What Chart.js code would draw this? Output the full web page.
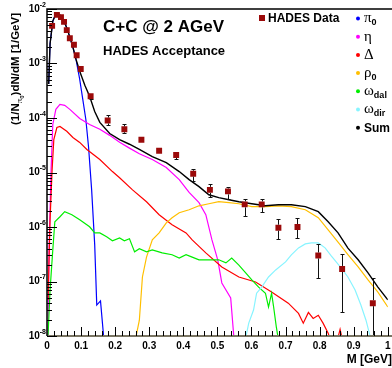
<!DOCTYPE html>
<html lang="en">
<head>
<meta charset="UTF-8">
<title>C+C @ 2 AGeV - dielectron cocktail</title>
<style>
    body { margin: 0; background: #fff; }
    .chart-box { position: relative; width: 392px; height: 368px; }
</style>
</head>
<body>
<div class="chart-box"><canvas id="massChart"></canvas></div>

<script src="https://cdn.jsdelivr.net/npm/chart.js"></script>
<script>
// HADES data points (M in GeV, 1/N dN/dM in 1/GeV)
const dataMass = [0.015, 0.029, 0.041, 0.050, 0.058, 0.067, 0.079, 0.087, 0.099, 0.128, 0.178, 0.227, 0.277,
                  0.329, 0.379, 0.429, 0.478, 0.531, 0.580, 0.630, 0.679, 0.735, 0.796, 0.866, 0.956];
const dataVal  = [4.9e-3, 7.8e-3, 7.1e-3, 5.8e-3, 4.1e-3, 2.9e-3, 2.2e-3, 1.42e-3, 7.9e-4, 2.5e-4, 9.0e-5, 6.2e-5, 4.0e-5,
                  2.5e-5, 2.1e-5, 9.5e-6, 4.8e-6, 4.5e-6, 2.6e-6, 2.6e-6, 9.7e-7, 1.0e-6, 3.0e-7, 1.7e-7, 4.0e-8];
const errHigh  = [null, null, null, null, null, null, null, null, null, 2.75e-4, 1.12e-4, 7.6e-5, null,
                  null, 2.2e-5, 1.18e-5, 6.25e-6, 5.5e-6, 3.3e-6, 3.3e-6, 1.42e-6, 1.48e-6, 4.9e-7, 3.2e-7, 1.16e-7];
const errLow   = [null, null, null, null, null, null, null, null, null, 2.2e-4, 7.3e-5, 5.2e-5, null,
                  null, 1.8e-5, 7.1e-6, 3.6e-6, 3.3e-6, 1.61e-6, 1.91e-6, 6.1e-7, 6.3e-7, 1.16e-7, 2.7e-8, 1e-9];

// cocktail components
const piMass = [0.005, 0.009, 0.017, 0.026, 0.032, 0.041, 0.050, 0.058, 0.067, 0.076, 0.085, 0.096, 0.105, 0.114,
                0.122, 0.131, 0.140, 0.146, 0.157, 0.166, 0.170];
const piVal  = [4.2e-4, 2.3e-3, 6.0e-3, 8.1e-3, 8.4e-3, 7.4e-3, 6.0e-3, 4.5e-3, 3.05e-3, 2.0e-3, 1.2e-3, 5.1e-4, 2.2e-4, 9.4e-5,
                2.9e-5, 4.8e-6, 4.7e-7, 3.7e-8, 4.4e-8, 1.0e-8, 5e-9];

const etaMass = [0.003, 0.006, 0.012, 0.017, 0.026, 0.038, 0.052, 0.067, 0.096, 0.125, 0.155, 0.184, 0.213, 0.242,
                 0.271, 0.309, 0.350, 0.388, 0.417, 0.446, 0.466, 0.484, 0.501, 0.513, 0.539, 0.548, 0.552];
const etaVal  = [1e-8, 3.8e-7, 1.13e-5, 7.6e-5, 1.44e-4, 1.78e-4, 1.71e-4, 1.44e-4, 9.8e-5, 7.6e-5, 6.2e-5, 4.8e-5, 3.6e-5, 2.8e-5,
                 2.2e-5, 1.73e-5, 1.23e-5, 7.4e-6, 4.3e-6, 2.8e-6, 1.68e-6, 5.8e-7, 2.5e-7, 9.4e-8, 5.0e-8, 1e-8, 5e-9];

const deltaMass = [0.003, 0.009, 0.015, 0.020, 0.029, 0.038, 0.058, 0.076, 0.096, 0.117, 0.155, 0.192, 0.213, 0.251,
                   0.292, 0.329, 0.367, 0.408, 0.426, 0.466, 0.513, 0.563, 0.612, 0.659, 0.708, 0.738, 0.752, 0.767,
                   0.781, 0.796, 0.810, 0.825, 0.843, 0.860, 0.875];
const deltaVal  = [4.6e-8, 1.36e-6, 1.13e-5, 4.0e-5, 6.7e-5, 7.0e-5, 5.7e-5, 4.4e-5, 3.56e-5, 2.64e-5, 1.73e-5, 1.04e-5, 8.0e-6, 4.8e-6,
                   2.9e-6, 1.68e-6, 1.1e-6, 7.8e-7, 5.8e-7, 3.35e-7, 1.85e-7, 1.21e-7, 9.8e-8, 6.4e-8, 4.0e-8, 2.6e-8, 1.72e-8, 2.7e-8,
                   2.1e-8, 2.4e-8, 1.72e-8, 1.13e-8, 5e-9, 1.33e-8, 5e-9];

const rhoMass = [0.255, 0.262, 0.271, 0.280, 0.292, 0.309, 0.329, 0.350, 0.367, 0.388, 0.417, 0.446, 0.475, 0.504,
                 0.534, 0.563, 0.601, 0.641, 0.679, 0.717, 0.758, 0.796, 0.825, 0.854, 0.883, 0.913, 0.942, 0.971, 1.0];
const rhoVal  = [5e-9, 1.03e-8, 1.95e-8, 1.21e-7, 2.8e-7, 5.8e-7, 7.8e-7, 1.19e-6, 1.48e-6, 1.83e-6, 2.07e-6, 2.45e-6, 2.67e-6, 2.91e-6,
                 2.79e-6, 2.67e-6, 2.36e-6, 2.36e-6, 2.45e-6, 2.36e-6, 2.07e-6, 1.48e-6, 8.9e-7, 5.3e-7, 3.1e-7, 1.85e-7, 1.07e-7, 6.4e-8, 3.4e-8];

const omegaDalMass = [0.003, 0.009, 0.017, 0.023, 0.038, 0.052, 0.073, 0.096, 0.125, 0.140, 0.155, 0.175, 0.192, 0.213,
                      0.227, 0.242, 0.257, 0.271, 0.292, 0.309, 0.338, 0.367, 0.388, 0.408, 0.426, 0.446, 0.475, 0.504,
                      0.525, 0.542, 0.563, 0.583, 0.601, 0.621, 0.641, 0.650, 0.659, 0.665, 0.673, 0.685];
const omegaDalVal  = [1e-8, 7.0e-8, 3.8e-7, 1.25e-6, 1.54e-6, 1.91e-6, 1.68e-6, 1.36e-6, 1.01e-6, 7.8e-7, 7.8e-7, 6.6e-7, 5.6e-7, 6.3e-7,
                      5.6e-7, 6.1e-7, 3.5e-7, 4.0e-7, 3.5e-7, 3.8e-7, 3.35e-7, 3.1e-7, 2.7e-7, 3.1e-7, 2.8e-7, 2.5e-7, 2.5e-7, 2.5e-7,
                      2.2e-7, 2.7e-7, 2.0e-7, 1.44e-7, 1.07e-7, 7.9e-8, 6.1e-8, 3.4e-8, 6.1e-8, 3.4e-8, 1.45e-8, 5e-9];

const omegaDirMass = [0.574, 0.592, 0.606, 0.615, 0.630, 0.650, 0.671, 0.700, 0.717, 0.738, 0.758, 0.776, 0.796, 0.816,
                      0.834, 0.863, 0.883, 0.904, 0.921, 0.936, 0.948, 0.955];
const omegaDirVal  = [5e-9, 1.72e-8, 3.0e-8, 6.1e-8, 7.9e-8, 1.21e-7, 1.63e-7, 2.29e-7, 3.08e-7, 4.14e-7, 4.9e-7, 5.1e-7, 5.1e-7, 4.14e-7,
                      2.95e-7, 1.77e-7, 1.21e-7, 7.0e-8, 3.7e-8, 1.95e-8, 1e-8, 5e-9];

const sumMass = [0.005, 0.009, 0.017, 0.026, 0.032, 0.041, 0.050, 0.058, 0.067, 0.076, 0.085, 0.096, 0.111, 0.125,
                 0.140, 0.155, 0.184, 0.213, 0.242, 0.271, 0.309, 0.350, 0.388, 0.417, 0.446, 0.475, 0.504, 0.534,
                 0.563, 0.601, 0.641, 0.679, 0.717, 0.758, 0.796, 0.825, 0.854, 0.883, 0.913, 0.942, 0.971, 1.0];
const sumVal  = [4.2e-4, 2.3e-3, 6.0e-3, 8.1e-3, 8.4e-3, 7.4e-3, 6.0e-3, 4.5e-3, 3.05e-3, 2.0e-3, 1.2e-3, 7.2e-4, 4.0e-4, 2.5e-4,
                 1.32e-4, 8.3e-5, 5.2e-5, 4.0e-5, 3.3e-5, 2.65e-5, 1.96e-5, 1.52e-5, 1.04e-5, 7.4e-6, 5.5e-6, 3.9e-6, 3.45e-6, 3.17e-6,
                 2.9e-6, 2.67e-6, 2.45e-6, 2.56e-6, 2.56e-6, 2.36e-6, 1.91e-6, 1.25e-6, 7.8e-7, 4.1e-7, 2.5e-7, 1.44e-7, 7.9e-8, 4.6e-8];

// axis labels
const yDecades = [1e-2, 1e-3, 1e-4, 1e-5, 1e-6, 1e-7, 1e-8];
const yExps    = ['-2', '-3', '-4', '-5', '-6', '-7', '-8'];

// legend (symbol, subscript, colour)
const legendSym   = ['\u03C0', '\u03B7', '\u0394', '\u03C1', '\u03C9', '\u03C9', 'Sum'];
const legendSub   = ['0', '', '', '0', 'dal', 'dir', ''];
const legendColor = ['#0000ff', '#ff00ff', '#ff0000', '#ffbf00', '#00ee00', '#88f4ff', '#000000'];

const SANS = '"Liberation Sans", Arial, sans-serif';
const SERIF = '"Liberation Serif", "DejaVu Serif", serif';

function pts(xs, ys) {
    return xs.map((x, i) => ({ x: x, y: ys[i] }));
}

function curve(label, xs, ys, color, width) {
    return {
        type: 'line', label: label, data: pts(xs, ys),
        borderColor: color, borderWidth: width || 1.2,
        pointRadius: 0, fill: false, tension: 0
    };
}

// draws text pieces one after another (for sub/superscripts)
function drawRuns(ctx, x, y, runs) {
    runs.forEach(r => {
        ctx.font = r.font;
        ctx.fillText(r.t, x, y + (r.dy || 0));
        x += ctx.measureText(r.t).width;
    });
}
function runsWidth(ctx, runs) {
    let w = 0;
    runs.forEach(r => { ctx.font = r.font; w += ctx.measureText(r.t).width; });
    return w;
}

const decor = {
    id: 'decor',
    afterDatasetsDraw(chart) {
        const ctx = chart.ctx, xs = chart.scales.x, ys = chart.scales.y;
        // error bars of the HADES points
        ctx.save();
        ctx.strokeStyle = '#111';
        ctx.lineWidth = 1;
        dataMass.forEach((m, i) => {
            if (errHigh[i] == null) return;
            const px = Math.round(xs.getPixelForValue(m)) + 0.5;
            const py = ys.getPixelForValue(dataVal[i]);
            const hi = Math.round(ys.getPixelForValue(errHigh[i])) + 0.5;
            const lo = Math.min(Math.round(ys.getPixelForValue(errLow[i])) + 0.5, ys.bottom);
            ctx.beginPath();
            if (py - hi > 3) {
                ctx.moveTo(px, hi); ctx.lineTo(px, py - 3);
                ctx.moveTo(px - 2, hi); ctx.lineTo(px + 2, hi);
            }
            if (lo - py > 3) {
                ctx.moveTo(px, py + 3); ctx.lineTo(px, lo);
                if (lo < ys.bottom) { ctx.moveTo(px - 2, lo); ctx.lineTo(px + 2, lo); }
            }
            ctx.stroke();
        });
        ctx.restore();
    },
    afterDraw(chart) {
        const ctx = chart.ctx, xs = chart.scales.x, ys = chart.scales.y;
        const a = chart.chartArea;
        ctx.save();

        // frame
        ctx.strokeStyle = '#7a7563';
        ctx.lineWidth = 2;
        ctx.beginPath(); ctx.moveTo(a.left, a.bottom); ctx.lineTo(392, a.bottom); ctx.stroke();
        ctx.strokeStyle = '#000';
        ctx.lineWidth = 1.5;
        ctx.beginPath();
        ctx.moveTo(a.left, a.bottom); ctx.lineTo(a.left, a.top); ctx.lineTo(392, a.top);
        ctx.stroke();

        // inward tick marks
        ctx.lineWidth = 1;
        ctx.beginPath();
        for (let k = 1; k <= 50; k++) {
            const px = Math.round(xs.getPixelForValue(k * 0.02)) + 0.5;
            const len = k % 5 === 0 ? 9 : 5;
            ctx.moveTo(px, a.bottom); ctx.lineTo(px, a.bottom - len);
        }
        for (let e = -8; e <= -2; e++) {
            const py = Math.round(ys.getPixelForValue(Math.pow(10, e))) + 0.5;
            ctx.moveTo(a.left, py); ctx.lineTo(a.left + 10, py);
            if (e === -2) continue;
            for (let m = 2; m <= 9; m++) {
                const pm = Math.round(ys.getPixelForValue(m * Math.pow(10, e))) + 0.5;
                ctx.moveTo(a.left, pm); ctx.lineTo(a.left + 5, pm);
            }
        }
        ctx.stroke();

        // y tick labels 10^-n
        ctx.fillStyle = '#000';
        ctx.textBaseline = 'middle';
        ctx.textAlign = 'left';
        yDecades.forEach((v, i) => {
            const py = ys.getPixelForValue(v);
            const runs = [
                { t: '10', font: 'bold 10px ' + SANS },
                { t: yExps[i], font: 'bold 7px ' + SANS, dy: -4 }
            ];
            drawRuns(ctx, a.left - 1 - runsWidth(ctx, runs), py, runs);
        });

        // y axis title, rotated
        ctx.save();
        ctx.translate(19, 69);
        ctx.rotate(-Math.PI / 2);
        ctx.textBaseline = 'alphabetic';
        const yTitle = [
            { t: '(1/N', font: 'bold 11.5px ' + SANS },
            { t: '\u03C0', font: '9px ' + SERIF, dy: 3 },
            { t: '0', font: 'bold 6px ' + SANS, dy: 5 },
            { t: ')dN/dM [1/GeV]', font: 'bold 11.5px ' + SANS }
        ];
        drawRuns(ctx, -runsWidth(ctx, yTitle) / 2, 0, yTitle);
        ctx.restore();

        // x axis title
        ctx.textAlign = 'right';
        ctx.textBaseline = 'middle';
        ctx.font = 'bold 12px ' + SANS;
        ctx.fillText('M [GeV]', 392, 360);

        // header texts
        ctx.textAlign = 'left';
        ctx.textBaseline = 'alphabetic';
        ctx.font = 'bold 17px ' + SANS;
        ctx.fillText('C+C @ 2 AGeV', 103, 32);
        ctx.font = 'bold 13px ' + SANS;
        ctx.fillText('HADES Acceptance', 103, 55);

        // legend: data
        ctx.fillStyle = '#9b0a0a';
        ctx.fillRect(259, 15, 6, 6);
        ctx.fillStyle = '#000';
        ctx.textBaseline = 'middle';
        ctx.font = 'bold 12px ' + SANS;
        ctx.fillText('HADES Data', 268, 18.5);

        // legend: components
        legendSym.forEach((s, i) => {
            const y = 18.5 + i * 18.2;
            ctx.fillStyle = legendColor[i];
            ctx.beginPath(); ctx.arc(358, y, 2, 0, Math.PI * 2); ctx.fill();
            ctx.fillStyle = '#000';
            if (s === 'Sum') {
                ctx.font = 'bold 12px ' + SANS;
                ctx.fillText(s, 364, y + 1);
                return;
            }
            drawRuns(ctx, 364, y, [
                { t: s, font: '15px ' + SERIF },
                { t: legendSub[i], font: 'bold 9px ' + SANS, dy: 4 }
            ]);
        });

        ctx.restore();
    }
};

new Chart(document.getElementById('massChart'), {
    data: {
        datasets: [
            {
                type: 'scatter', label: 'HADES Data', data: pts(dataMass, dataVal),
                pointStyle: 'rect', pointRadius: 4.2,
                backgroundColor: '#9b0a0a', borderColor: '#9b0a0a', borderWidth: 0
            },
            curve('Sum', sumMass, sumVal, legendColor[6], 1.4),
            curve('omega dir', omegaDirMass, omegaDirVal, legendColor[5]),
            curve('omega dal', omegaDalMass, omegaDalVal, legendColor[4]),
            curve('rho0', rhoMass, rhoVal, legendColor[3]),
            curve('Delta', deltaMass, deltaVal, legendColor[2]),
            curve('eta', etaMass, etaVal, legendColor[1]),
            curve('pi0', piMass, piVal, legendColor[0])
        ]
    },
    options: {
        responsive: true,
        maintainAspectRatio: false,
        animation: false,
        layout: { padding: { top: 9, right: 2, left: 0, bottom: 0 } },
        plugins: { legend: { display: false }, tooltip: { enabled: false } },
        scales: {
            x: {
                type: 'linear', min: 0, max: 1,
                grid: { display: false, drawTicks: false },
                border: { display: false },
                ticks: {
                    stepSize: 0.1, autoSkip: false, maxRotation: 0, padding: 4,
                    color: '#000', font: { family: SANS, weight: 'bold', size: 10 },
                    callback: v => String(+v.toFixed(1))
                },
                afterFit: s => { s.height = 32; s.paddingLeft = 0; s.paddingRight = 0; }
            },
            y: {
                type: 'logarithmic', min: 1e-8, max: 1e-2,
                grid: { display: false, drawTicks: false },
                border: { display: false },
                ticks: { display: false },
                afterFit: s => { s.width = 47; s.paddingTop = 0; s.paddingBottom = 0; }
            }
        }
    },
    plugins: [decor]
});
</script>
</body>
</html>
